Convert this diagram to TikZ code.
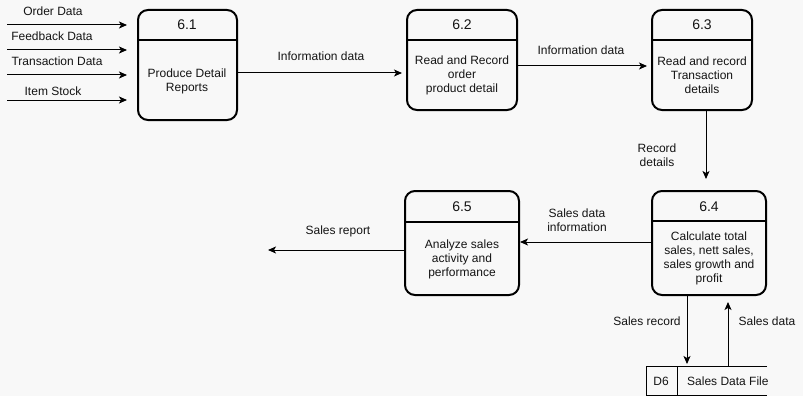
\documentclass[tikz,border=0pt]{standalone}
\usepackage{fontspec}
\setmainfont{Liberation Sans}
\usetikzlibrary{arrows.meta}
\definecolor{bg}{RGB}{248,248,248}
\definecolor{ink}{RGB}{20,20,20}
\tikzset{
  proc/.style={draw, line width=2pt, rounded corners=10pt, fill=bg, inner sep=0pt},
  lbl/.style={font=\fontsize{12}{14}\selectfont, align=center, inner sep=0pt, text=ink},
  num/.style={font=\fontsize{14}{16}\selectfont, inner sep=0pt, text=ink},
  flow/.style={line width=1pt, -{Stealth[length=8pt,width=7pt,inset=2pt]}},
  divline/.style={line width=2pt},
}
\begin{document}
\begin{tikzpicture}[x=1pt,y=-1pt]
\fill[bg] (0,0) rectangle (803,396);
\useasboundingbox (0,0) rectangle (803,396);

% processes
\node[proc, minimum width=99pt, minimum height=110pt] (p1) at (187.5,65) {};
\node[proc, minimum width=110pt, minimum height=100pt] (p2) at (462,60) {};
\node[proc, minimum width=100pt, minimum height=100pt] (p3) at (702,60) {};
\node[proc, minimum width=114pt, minimum height=104pt] (p4) at (709,243) {};
\node[proc, minimum width=114pt, minimum height=104pt] (p5) at (462,243) {};

\draw[divline] (p1.west |- 0,40) -- (p1.east |- 0,40);
\draw[divline] (p2.west |- 0,40) -- (p2.east |- 0,40);
\draw[divline] (p3.west |- 0,40) -- (p3.east |- 0,40);
\draw[divline] (p4.west |- 0,221) -- (p4.east |- 0,221);
\draw[divline] (p5.west |- 0,222) -- (p5.east |- 0,222);

\node[num] (n1) at (187,25) {6.1};
\node[lbl] (t1) at (187,81) {Produce Detail\\Reports};
\node[num] (n2) at (462,25) {6.2};
\node[lbl] (t2) at (462,75) {Read and Record\\order\\product detail};
\node[num] (n3) at (702,25) {6.3};
\node[lbl] (t3) at (702,75) {Read and record\\Transaction\\details};
\node[num] (n4) at (709,207) {6.4};
\node[lbl] (t4) at (709,258) {Calculate total\\sales, nett sales,\\sales growth and\\profit};
\node[num] (n5) at (462,207) {6.5};
\node[lbl] (t5) at (462,259) {Analyze sales\\activity and\\performance};

% data store
\coordinate (sTL) at (646,366);
\coordinate (sBL) at (646,395);
\coordinate (sTR) at (767,366);
\coordinate (sBR) at (767,395);
\coordinate (sDT) at (677,366);
\coordinate (sDB) at (677,395);
\draw[line width=1pt] (sTR) -- (sTL) -- (sBL) -- (sBR);
\draw[line width=1pt] (sDT) -- (sDB);
\node[lbl] (d6) at (661,381) {D6};
\node[lbl, anchor=west] (sdf) at (687,381) {Sales Data File};
\coordinate (sIn) at (687,366);
\coordinate (sOut) at (728,366);

% inputs
\coordinate (i1) at (7,25);
\coordinate (i2) at (7,50);
\coordinate (i3) at (7,75);
\coordinate (i4) at (7,100);
\draw[flow, shorten >=10pt] (i1) -- (i1 -| p1.west);
\draw[flow, shorten >=10pt] (i2) -- (i2 -| p1.west);
\draw[flow, shorten >=10pt] (i3) -- (i3 -| p1.west);
\draw[flow, shorten >=10pt] (i4) -- (i4 -| p1.west);
\node[lbl] (li1) at (53,11) {Order Data};
\node[lbl] (li2) at (52,36) {Feedback Data};
\node[lbl] (li3) at (57,61) {Transaction Data};
\node[lbl] (li4) at (53,91) {Item Stock};

% flows
\draw[flow, shorten >=4pt] (p1.east |- 0,73) -- (p2.west |- 0,73);
\node[lbl] (f1) at (321,56) {Information data};
\draw[flow, shorten >=4pt] (p2.east |- 0,66) -- (p3.west |- 0,66);
\node[lbl] (f2) at (581,50) {Information data};
\draw[flow, shorten >=11pt] (p3.south -| 706,0) -- (p4.north -| 706,0);
\node[lbl] (f3) at (657,155) {Record\\details};
\draw[flow] (p4.west |- 0,242) -- (p5.east |- 0,242);
\node[lbl] (f4) at (577,220) {Sales data\\information};
\coordinate (out) at (268,250);
\draw[flow] (p5.west |- out) -- (out);
\node[lbl] (f5) at (338,231) {Sales report};
\draw[flow, shorten >=2pt] (p4.south -| sIn) -- (sIn);
\node[lbl] (f6) at (647,321) {Sales record};
\draw[flow, shorten >=6pt] (sOut) -- (p4.south -| sOut);
\node[lbl] (f7) at (767,321) {Sales data};
\end{tikzpicture}
\end{document}
